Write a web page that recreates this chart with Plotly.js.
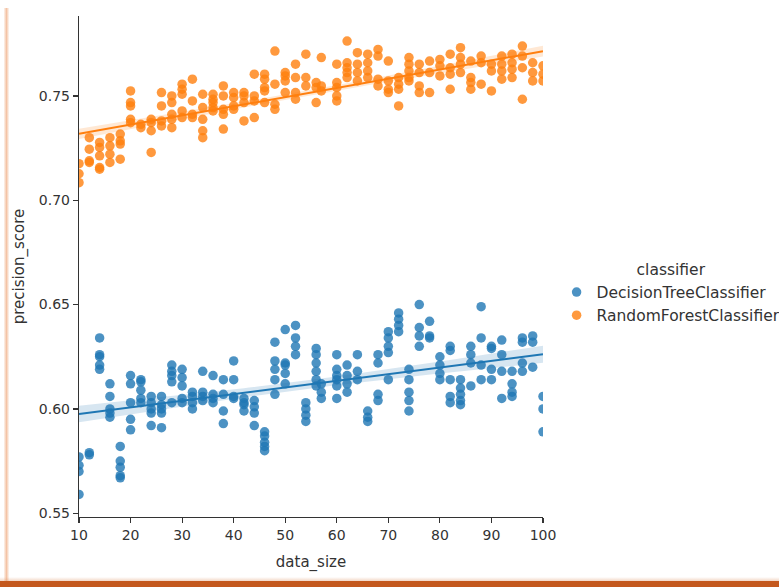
<!DOCTYPE html>
<html>
<head>
<meta charset="utf-8">
<script src="https://cdn.plot.ly/plotly-3.0.1.min.js"></script>
<style>
html,body{margin:0;padding:0;background:#fff;overflow:hidden}
#chart{width:779px;height:587px;position:absolute;left:0;top:0}
#edgeL{position:absolute;left:4px;top:8px;width:5px;height:579px;background:linear-gradient(to right, rgba(240,175,130,0.15), rgba(236,155,105,0.6), rgba(240,175,130,0.1));z-index:5}
#edgeB{position:absolute;left:0;top:581px;width:779px;height:6px;background:#c4581d;z-index:5}
#edgeB2{position:absolute;left:0;top:577px;width:779px;height:4px;background:linear-gradient(to bottom, rgba(220,140,90,0), rgba(220,140,90,0.35));z-index:5}
</style>
</head>
<body>
<div id="chart"></div>
<div id="edgeL"></div>
<div id="edgeB2"></div>
<div id="edgeB"></div>
<script>
// data_size values (shared by both classifiers)
const sizes = [10,12,14,16,18,20,22,24,26,28,30,32,34,36,38,40,42,44,46,48,50,52,54,56,57,
               60,62,64,66,68,70,72,74,76,78,80,82,84,86,88,90,92,94,96,98,100];

// precision_score of DecisionTreeClassifier, one list per data_size
const dtScores = [
  [0.577,0.573,0.570,0.559],
  [0.579,0.578],
  [0.634,0.626,0.625,0.621,0.619],
  [0.612,0.606,0.600,0.598,0.596],
  [0.582,0.575,0.572,0.568,0.567],
  [0.616,0.612,0.603,0.595,0.590],
  [0.614,0.613,0.609,0.605,0.603],
  [0.606,0.603,0.600,0.598,0.592],
  [0.606,0.602,0.600,0.598,0.591],
  [0.621,0.618,0.616,0.613,0.603],
  [0.619,0.615,0.611,0.605,0.603],
  [0.608,0.606,0.603,0.600],
  [0.618,0.608,0.606,0.604],
  [0.616,0.607,0.605,0.603],
  [0.614,0.607,0.599,0.593],
  [0.623,0.614,0.606,0.605],
  [0.605,0.603,0.602,0.599],
  [0.604,0.601,0.598,0.592],
  [0.589,0.587,0.584,0.582,0.580],
  [0.632,0.623,0.619,0.614,0.607],
  [0.638,0.622,0.621,0.617,0.612],
  [0.640,0.634,0.630,0.626],
  [0.603,0.600,0.597,0.594],
  [0.629,0.626,0.622,0.618,0.614,0.611],
  [0.612,0.608,0.605],
  [0.626,0.619,0.616,0.614,0.611,0.605],
  [0.621,0.616,0.612,0.608],
  [0.626,0.618,0.614],
  [0.599,0.596,0.594],
  [0.626,0.622,0.607,0.604],
  [0.637,0.634,0.630,0.627,0.614],
  [0.646,0.643,0.640,0.637],
  [0.619,0.614,0.608,0.604,0.599],
  [0.650,0.639,0.635,0.630],
  [0.642,0.635,0.634],
  [0.625,0.621,0.617,0.614],
  [0.630,0.628,0.614,0.606,0.603],
  [0.614,0.610,0.607,0.604,0.602],
  [0.630,0.626,0.622,0.611],
  [0.649,0.634,0.621,0.614],
  [0.630,0.629,0.619,0.614],
  [0.633,0.626,0.618,0.605],
  [0.618,0.612,0.608,0.606],
  [0.634,0.632,0.622,0.618],
  [0.635,0.632,0.620],
  [0.606,0.600,0.589]
];

// precision_score of RandomForestClassifier, one list per data_size
const rfScores = [
  [0.7175,0.7127,0.7084],
  [0.7300,0.7245,0.7189,0.7181],
  [0.7277,0.7253,0.7213,0.7157,0.7149],
  [0.7300,0.7261,0.7221,0.7181],
  [0.7317,0.7285,0.7269,0.7197],
  [0.7524,0.7468,0.7452,0.7388,0.7372],
  [0.7364,0.7348],
  [0.7388,0.7372,0.7333,0.7229],
  [0.7516,0.7452,0.7380,0.7356],
  [0.7500,0.7468,0.7412,0.7388,0.7348],
  [0.7556,0.7532,0.7508,0.7428,0.7396],
  [0.7580,0.7476,0.7412,0.7396],
  [0.7508,0.7444,0.7388,0.7333,0.7300],
  [0.7508,0.7484,0.7468,0.7444,0.7428],
  [0.7548,0.7500,0.7436,0.7412,0.7341],
  [0.7516,0.7492,0.7452,0.7436],
  [0.7516,0.7500,0.7468,0.7380],
  [0.7604,0.7500,0.7476,0.7396],
  [0.7604,0.7580,0.7540,0.7524,0.7468],
  [0.7715,0.7556,0.7460,0.7436],
  [0.7612,0.7596,0.7572,0.7516],
  [0.7652,0.7588,0.7516,0.7484],
  [0.7700,0.7588,0.7548],
  [0.7564,0.7540,0.7468],
  [0.7684,0.7548,0.7524],
  [0.7652,0.7564,0.7540,0.7500,0.7476],
  [0.7763,0.7659,0.7635,0.7612,0.7588],
  [0.7707,0.7652,0.7612,0.7572],
  [0.7700,0.7659,0.7620,0.7588],
  [0.7723,0.7691,0.7580,0.7548],
  [0.7667,0.7572,0.7532,0.7516],
  [0.7588,0.7556,0.7532,0.7452],
  [0.7684,0.7652,0.7620,0.7588,0.7572],
  [0.7652,0.7612,0.7548,0.7516],
  [0.7667,0.7612,0.7516],
  [0.7675,0.7644,0.7596],
  [0.7700,0.7635,0.7604,0.7532],
  [0.7731,0.7684,0.7652,0.7612],
  [0.7667,0.7588,0.7564,0.7532],
  [0.7691,0.7659,0.7556],
  [0.7652,0.7620,0.7524],
  [0.7691,0.7652,0.7620,0.7580],
  [0.7700,0.7659,0.7628,0.7588],
  [0.7739,0.7691,0.7635,0.7484],
  [0.7659,0.7612,0.7572],
  [0.7644,0.7604,0.7572]
];

const classNames = ['DecisionTreeClassifier','RandomForestClassifier'];
const colors = ['#1f77b4','#ff7f0e'];
const bandColors = ['rgba(31,119,180,0.18)','rgba(255,127,14,0.18)'];
const xTicks = [10,20,30,40,50,60,70,80,90,100];
const yTicks = [0.55,0.60,0.65,0.70,0.75];

function flatten(scores){
  const xs=[], ys=[];
  scores.forEach((list,i)=>list.forEach(v=>{xs.push(sizes[i]); ys.push(v);}));
  return {xs, ys};
}

function regress(xs, ys){
  const n=xs.length;
  const mx=xs.reduce((a,b)=>a+b,0)/n, my=ys.reduce((a,b)=>a+b,0)/n;
  let sxx=0,sxy=0;
  for(let i=0;i<n;i++){sxx+=(xs[i]-mx)**2; sxy+=(xs[i]-mx)*(ys[i]-my);}
  const b=sxy/sxx, a=my-b*mx;
  let ss=0; for(let i=0;i<n;i++){ss+=(ys[i]-a-b*xs[i])**2;}
  const s2=ss/(n-2);
  const lo=Math.min(...xs), hi=Math.max(...xs);
  const gx=[], gy=[], gl=[], gu=[];
  for(let k=0;k<=90;k++){
    const x=lo+(hi-lo)*k/90;
    const y=a+b*x;
    const se=Math.sqrt(s2*(1/n+(x-mx)**2/sxx));
    gx.push(x); gy.push(y); gl.push(y-1.96*se); gu.push(y+1.96*se);
  }
  return {gx,gy,gl,gu};
}

const sets=[flatten(dtScores), flatten(rfScores)];
const traces=[];
sets.forEach((d,i)=>{
  traces.push({type:'scatter',mode:'markers',x:d.xs,y:d.ys,name:classNames[i],
    marker:{color:colors[i],size:9.5,opacity:0.8,line:{width:0}},hoverinfo:'x+y'});
});
sets.forEach((d,i)=>{
  const r=regress(d.xs,d.ys);
  traces.push({type:'scatter',mode:'lines',x:r.gx,y:r.gl,line:{width:0,color:colors[i]},showlegend:false,hoverinfo:'skip'});
  traces.push({type:'scatter',mode:'lines',x:r.gx,y:r.gu,line:{width:0,color:colors[i]},fill:'tonexty',fillcolor:bandColors[i],showlegend:false,hoverinfo:'skip'});
  traces.push({type:'scatter',mode:'lines',x:r.gx,y:r.gy,line:{width:2,color:colors[i]},showlegend:false,hoverinfo:'skip'});
});

const font='DejaVu Sans, sans-serif';
const layout={
  width:779,height:587,
  margin:{l:79,r:236,t:16,b:70,autoexpand:false},
  paper_bgcolor:'rgba(0,0,0,0)',plot_bgcolor:'#fff',
  font:{family:font,color:'#333',size:14},
  showlegend:true,
  xaxis:{range:[10,100],tickvals:xTicks,ticktext:xTicks.map(String),showgrid:false,zeroline:false,
    showline:true,linecolor:'#333',linewidth:1.2,ticks:'outside',ticklen:5,tickwidth:1.2,tickcolor:'#333',
    tickfont:{size:14,color:'#333'},title:{text:'data_size',font:{size:15,color:'#333'},standoff:14}},
  yaxis:{range:[0.5482,0.7883],tickvals:yTicks,ticktext:yTicks.map(v=>v.toFixed(2)),showgrid:false,zeroline:false,
    showline:true,linecolor:'#333',linewidth:1.2,ticks:'outside',ticklen:5,tickwidth:1.2,tickcolor:'#333',
    tickfont:{size:14,color:'#333'},title:{text:'precision_score',font:{size:15,color:'#333'},standoff:10}},
  legend:{xref:'container',yref:'container',x:0.7145,xanchor:'left',y:0.565,yanchor:'top',bgcolor:'rgba(0,0,0,0)',
    traceorder:'normal',
    font:{size:15.5,color:'#333'},title:{text:'classifier',side:'top center',font:{size:15.5,color:'#333'}},
    tracegroupgap:0}
};
Plotly.newPlot('chart',traces,layout,{displayModeBar:false,staticPlot:true});
</script>
</body>
</html>
